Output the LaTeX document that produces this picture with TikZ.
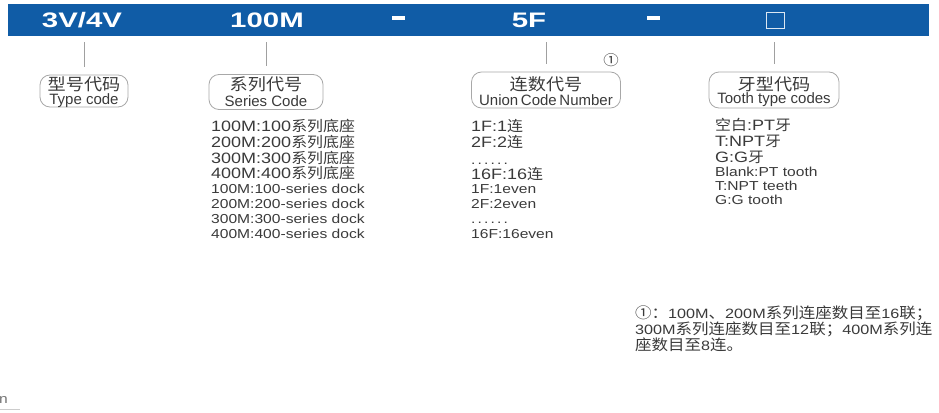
\documentclass[tikz,border=0pt]{standalone}
\usepackage{fontspec}
\setmainfont{Liberation Sans}[FakeStretch=1.2]
\newfontfamily\cjk{Noto Sans CJK SC}[FakeStretch=1.1]
\newfontfamily\barfont{Liberation Sans}[FakeStretch=1.4]
\newfontfamily\boxfont{Liberation Sans}
\usetikzlibrary{calc}
\definecolor{barblue}{HTML}{105CA6}
\definecolor{txt}{HTML}{3A3A3A}
\definecolor{conncol}{HTML}{A0A0A0}
\definecolor{boxcol}{HTML}{A8A8A8}
\newcommand{\cl}[1]{{\cjk\fontsize{14.5}{15}\selectfont #1}}
\begin{document}
\begin{tikzpicture}[x=1pt,y=-1pt,
  hd/.style={text=white,font=\barfont\bfseries\fontsize{21}{21}\selectfont,inner sep=0pt},
  dashbar/.style={fill=white,minimum width=13pt,minimum height=4pt,inner sep=0pt},
  conn/.style={draw=conncol,line width=0.8pt},
  codebox/.style={draw=boxcol,line width=0.8pt,rounded corners=10pt,inner sep=0pt},
  boxcn/.style={inner sep=0pt,text=txt,font=\cjk\fontsize{16.5}{17}\selectfont},
  boxen/.style={inner sep=0pt,text=txt,font=\boxfont\fontsize{15}{15}\selectfont},
  cnline/.style={anchor=base west,inner sep=0pt,text=txt,font=\fontsize{15}{16}\selectfont},
  enline/.style={anchor=base west,inner sep=0pt,text=txt,font=\fontsize{13}{14}\selectfont},
  noteline/.style={anchor=base west,inner sep=0pt,text=txt,font=\fontsize{13.5}{15}\selectfont},
]
\useasboundingbox (0,0) rectangle (939,412);
% header bar
\node[fill=barblue,minimum width=921pt,minimum height=32pt,inner sep=0pt,anchor=north west] (bar) at (8,4) {};
\node[hd] (h1) at (82,20) {3V/4V};
\node[hd] (h2) at (267,20) {100M};
\node[dashbar] (h3) at (398.5,18) {};
\node[hd] (h4) at (529,20) {5F};
\node[dashbar] (h5) at (653,18) {};
\node[draw=white!85!barblue,line width=0.9pt,minimum width=18pt,minimum height=16pt,inner sep=0pt] (h6) at (775,20) {};
% boxes
\node[codebox,minimum width=88pt,minimum height=32pt] (b1) at (84,91) {};
\node[codebox,minimum width=114pt,minimum height=35pt] (b2) at (266,92) {};
\node[codebox,minimum width=149pt,minimum height=36pt] (b3) at (546,90) {};
\node[codebox,minimum width=130pt,minimum height=36pt] (b4) at (774,90) {};
\node[boxcn] (b1c) at (84,84) {型号代码};
\node[boxen] (b1e) at (84,101) {Type code};
\node[boxcn] (b2c) at (266,84) {系列代号};
\node[boxen] (b2e) at (266,101) {Series Code};
\node[boxcn] (b3c) at (546,84) {连数代号};
\node[boxen] (b3e) at (546,100) {Union\hspace{-1.5pt} Code\hspace{-1.5pt} Number};
\node[boxcn] (b4c) at (774,84) {牙型代码};
\node[boxen] (b4e) at (774,100) {Tooth type codes};
\node[inner sep=0pt,text=txt,font=\cjk\fontsize{14}{14}\selectfont] (c1) at (611,60) {①};
% connectors
\foreach \b in {b1,b2,b3,b4}{
  \draw[conn] (\b.north |- bar.south) ++(0,6) -- ($(\b.north)+(0,-8)$);
}
% series list
\node[cnline] (s1) at (211,131) {100M:100\cl{系列底座}};
\node[cnline] (s2) at (211,147) {200M:200\cl{系列底座}};
\node[cnline] (s3) at (211,163) {300M:300\cl{系列底座}};
\node[cnline] (s4) at (211,178) {400M:400\cl{系列底座}};
\node[enline] (s5) at (211,193) {100M:100-series dock};
\node[enline] (s6) at (211,208) {200M:200-series dock};
\node[enline] (s7) at (211,223) {300M:300-series dock};
\node[enline] (s8) at (211,238) {400M:400-series dock};
% union list
\node[cnline] (u1) at (471,131) {1F:1\cl{连}};
\node[cnline] (u2) at (471,147) {2F:2\cl{连}};
\node[enline] (u3) at (471,164) {.\,.\,.\,.\,.\,.};
\node[cnline] (u4) at (471,179) {16F:16\cl{连}};
\node[enline] (u5) at (471,193) {1F:1even};
\node[enline] (u6) at (471,208) {2F:2even};
\node[enline] (u7) at (471,223) {.\,.\,.\,.\,.\,.};
\node[enline] (u8) at (471,238) {16F:16even};
% tooth list
\node[cnline] (t1) at (715,130) {\cl{空白}:PT\cl{牙}};
\node[cnline] (t2) at (715,146) {T:NPT\cl{牙}};
\node[cnline] (t3) at (715,162) {G:G\cl{牙}};
\node[enline] (t4) at (715,176) {Blank:PT tooth};
\node[enline] (t5) at (715,190) {T:NPT teeth};
\node[enline] (t6) at (715,204) {G:G tooth};
% footnote
\node[noteline] (n1) at (635,318) {{\cjk\fontsize{15}{15}\selectfont ①：}100M{\cjk\fontsize{15}{15}\selectfont 、}200M{\cjk\fontsize{15}{15}\selectfont 系列连座数目至}16{\cjk\fontsize{15}{15}\selectfont 联；}};
\node[noteline] (n2) at (635,334) {300M{\cjk\fontsize{15}{15}\selectfont 系列连座数目至}12{\cjk\fontsize{15}{15}\selectfont 联；}400M{\cjk\fontsize{15}{15}\selectfont 系列连}};
\node[noteline] (n3) at (635,350) {{\cjk\fontsize{15}{15}\selectfont 座数目至}8{\cjk\fontsize{15}{15}\selectfont 连。}};
% cut-off fragment at bottom left
\node[anchor=base west,inner sep=0pt,text=txt!70,font=\fontsize{13}{14}\selectfont] (frag) at (-1,403) {n};
\draw[draw=gray!40,line width=1pt] (frag.south west |- 0,409) -- ++(21,0);
\end{tikzpicture}
\end{document}
